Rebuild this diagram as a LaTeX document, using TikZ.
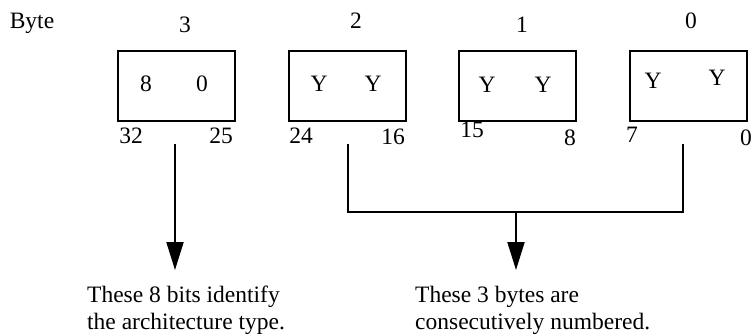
\documentclass[tikz,border=0pt]{standalone}
\usepackage{fontspec}
\setmainfont{Liberation Serif}
\usetikzlibrary{arrows.meta}

\begin{document}
\begin{tikzpicture}[x=1pt,y=-1pt,
    every node/.style={font=\fontsize{23.5}{26.5}\selectfont, inner sep=0pt},
    bytebox/.style={draw, line width=2pt, minimum width=117pt, minimum height=70pt},
    lbl/.style={anchor=base},
    wire/.style={line width=2pt},
    arr/.style={line width=2pt, -{Triangle[length=28pt,width=17pt]}}]
      \useasboundingbox (0,0) rectangle (752,335);

      % Draw the byte labels
      \node[lbl] (byte) at (32,28) {Byte};
      \node[lbl] (n3) at (185,32) {3};
      \node[lbl] (n2) at (356,28) {2};
      \node[lbl] (n1) at (522,32) {1};
      \node[lbl] (n0) at (691,28) {0};

      % Draw the boxes
      \node[bytebox] (B3) at (176.5,86) {};
      \node[bytebox] (B2) at (347,86) {};
      \node[bytebox] (B1) at (517,86) {};
      \node[bytebox] (B0) at (688,86) {};

      % Draw the contents
      \node[lbl] (v3a) at (146,91) {8};
      \node[lbl] (v3b) at (202,91) {0};
      \node[lbl] (v2a) at (319,91) {Y};
      \node[lbl] (v2b) at (373,91) {Y};
      \node[lbl] (v1a) at (487,92) {Y};
      \node[lbl] (v1b) at (543,92) {Y};
      \node[lbl] (v0a) at (653,88) {Y};
      \node[lbl] (v0b) at (717,85) {Y};

      % Draw the bit numbers
      \node[lbl] (b32) at (131,143) {32};
      \node[lbl] (b25) at (221,143) {25};
      \node[lbl] (b24) at (301,143) {24};
      \node[lbl] (b16) at (393,144) {16};
      \node[lbl] (b15) at (472,137) {15};
      \node[lbl] (b8) at (570,145) {8};
      \node[lbl] (b7) at (632,142) {7};
      \node[lbl] (b0) at (746,145) {0};

      % Draw the notes
      \node[anchor=north west, align=left] (note1) at (87,286) {These 8 bits identify\\the architecture type.};
      \node[anchor=north west, align=left] (note2) at (415,286) {These 3 bytes are\\consecutively numbered.};

      % Draw the connectors
      \coordinate (c3) at (175,144);
      \coordinate (c2) at (348,144);
      \coordinate (c0) at (683,144);
      \coordinate (j2) at (348,212);
      \coordinate (j0) at (683,212);
      \coordinate (jm) at (516,212);
      \coordinate (t3) at (175,270);
      \coordinate (tm) at (516,270);
      \draw[arr] (c3) -- (t3);
      \draw[wire] (c2) -- (j2) -- (j0) -- (c0);
      \draw[arr] (jm) -- (tm);
    \end{tikzpicture}
\end{document}
